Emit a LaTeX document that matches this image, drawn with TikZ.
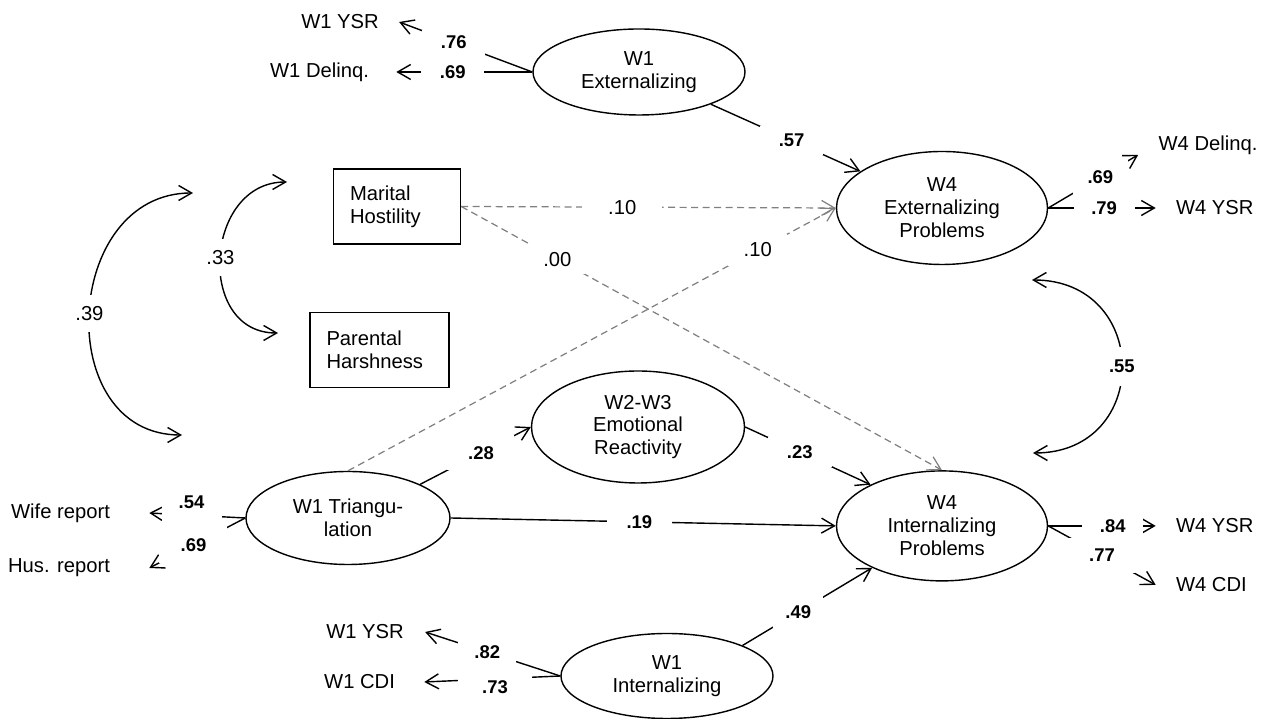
\documentclass[tikz,border=0pt]{standalone}
\usepackage{fontspec}
\setsansfont{Liberation Sans}
\usetikzlibrary{positioning,arrows.meta,shapes.geometric}
\tikzset{
	>={Straight Barb[length=2.6mm, width=3mm]}
}

\begin{document}
\begin{tikzpicture}[
	node distance = 2mm,
	every node/.style = {
		font = \sffamily\fontsize{11.5}{13}\selectfont
	},
	latent/.style = {
		draw,
		ellipse,
		line width = 0.8pt,
		align = center,
		inner sep = 0pt,
		minimum width = 4.22cm,
		minimum height = 2.24cm
	},
	obs/.style = {
		draw,
		line width = 0.8pt,
		align = left,
		inner xsep = 3.3mm,
		minimum height = 1.5cm
	},
	ind/.style = {inner sep = 0pt, inner xsep = #1},
	ind/.default = 4mm,
	coef/.style = {
		fill = white,
		text = black,
		inner sep = 0pt,
		minimum width = #1,
		minimum height = 5mm,
		font = \sffamily\bfseries\fontsize{10.5}{12}\selectfont
	},
	reg/.style = {font = \sffamily\fontsize{11.5}{13}\selectfont},
	effect/.style = {->, line width = 0.8pt},
	weak/.style = {->, gray, line width = 0.7pt, dash pattern = on 1.4mm off 0.9mm},
	corr/.style = {<->, line width = 0.8pt}
	]

	\useasboundingbox (0,0) rectangle (25.34,14.38);

	% latent variables
	\node[latent, minimum width = 4.24cm, minimum height = 1.72cm] (ext1) at (12.78,12.94) {W1\\Externalizing};
	\node[latent, minimum height = 2.26cm] (ext4) at (18.84,10.22) {W4\\Externalizing\\Problems};
	\node[latent, minimum height = 2.2cm, below = 41mm of ext4] (int4) {W4\\Internalizing\\Problems};
	\node[latent, minimum width = 4.26cm] (emo) at (12.76,5.84) {W2-W3\\Emotional\\Reactivity};
	\node[latent, minimum width = 4.08cm, minimum height = 1.86cm] (tri) at (6.96,4.02) {W1 Triangu-\\lation};
	\node[latent, minimum width = 4.24cm, minimum height = 1.7cm] (int1) at (13.34,0.86) {W1\\Internalizing};

	% observed predictors
	\node[obs, text width = 1.88cm] (mh) at (7.94,10.25) {Marital\\Hostility};
	\node[obs, text width = 2.12cm] (ph) at (7.59,7.38) {Parental\\Harshness};

	% indicators
	\node[ind] (ysr1) at (6.80,13.94) {W1 YSR};
	\node[ind = 5.4mm, left = 27.2mm of ext1] (del1) {W1 Delinq.};
	\node[ind] (del4) at (24.16,11.48) {W4 Delinq.};
	\node[ind, right = 21.5mm of ext4] (ysr4e) {W4 YSR};
	\node[ind, right = 21.5mm of int4] (ysr4i) {W4 YSR};
	\node[ind, below = 11.8mm of ysr4i.west, anchor = west] (cdi4) {W4 CDI};
	\node[ind = 7.8mm, left = 19.2mm of tri, yshift = 1mm] (wife) {Wife report};
	\node[ind = 7.8mm, below = 11mm of wife.east, anchor = east] (hus) {Hus. report};
	\node[ind = 4.2mm] (ysr1i) at (7.30,1.74) {W1 YSR};
	\node[ind = 5.8mm, left = 27.2mm of int1, yshift = -1.2mm] (cdi1) {W1 CDI};

	% ends of the correlations
	\coordinate (c39a) at (3.86,10.52);
	\coordinate (c39b) at (3.64,5.68);
	\coordinate (c33a) at (5.74,10.74);
	\coordinate (c33b) at (5.56,7.72);
	\coordinate (c55a) at (20.64,8.78);
	\coordinate (c55b) at (20.66,5.32);

	% loadings
	\draw[effect] (ext1.west) -- node[coef = 12.6mm, pos = .59] {.76} (ysr1.east);
	\draw[effect] (ext1.west) -- node[coef = 12.6mm, pos = .585] {.69} (del1.east);
	\draw[effect] (ext4.east) -- node[coef = 11mm, pos = .58, minimum height = 7mm] {.69} (del4.south west);
	\draw[effect] (ext4.east) -- node[coef = 12.2mm, pos = .52] {.79} (ysr4e.west);
	\draw[effect] (int4.east) -- node[coef = 12.2mm, pos = .6] {.84} (ysr4i.west);
	\draw[effect] (int4.east) -- node[coef = 13.4mm, pos = .5, minimum height = 7mm] {.77} (cdi4.west);
	\draw[effect] (tri.west) -- node[coef = 12mm, pos = .56, yshift = 2.6mm, minimum height = 9mm] {.54} (wife.east);
	\draw[effect] (tri.west) -- node[coef = 13.6mm, pos = .54, minimum height = 7.4mm] {.69} (hus.east);
	\draw[effect] (int1.west) -- node[coef = 11.6mm, pos = .54] {.82} (ysr1i.east);
	\draw[effect] (int1.west) -- node[coef = 14.8mm, pos = .48, yshift = -1.6mm] {.73} (cdi1.east);

	% paths
	\draw[effect] (ext1) -- node[coef = 12.6mm, pos = .54, minimum height = 5.7mm] {.57} (ext4);
	\draw[weak] (mh.east) -- node[coef = 16mm, pos = .43, reg] {.10} (ext4.west);
	\draw[weak] (mh.east) -- node[coef = 11mm, pos = .2, minimum height = 6mm, reg] {.00} (int4.north);
	\draw[weak] (tri.north) -- node[coef = 11.8mm, pos = .84, minimum height = 6.4mm, reg] {.10} (ext4.west);
	\draw[effect] (tri.25) -- node[coef = 13.4mm, pos = .55, minimum height = 7mm] {.28} (emo.west);
	\draw[effect] (emo.east) -- node[coef = 12.8mm, pos = .435, minimum height = 6mm] {.23} (int4.150);
	\draw[effect] (tri.east) -- node[coef = 13mm, pos = .49] {.19} (int4.west);
	\draw[effect] (int1.22) -- node[coef = 10mm, pos = .43, minimum height = 6.4mm] {.49} (int4);

	% correlations
	\draw[corr] (c39a) to[out = 180, in = 180, looseness = 1.38] node[coef = 6mm, minimum height = 7.4mm, reg] {.39} (c39b);
	\draw[corr] (c33a) to[out = 180, in = 180, looseness = 1.4] node[coef = 6mm, minimum height = 7.4mm, reg] {.33} (c33b);
	\draw[corr] (c55a) to[out = 0, in = 0, looseness = 1.76] node[coef = 6mm, minimum height = 7.8mm] {.55} (c55b);

\end{tikzpicture}
\end{document}
